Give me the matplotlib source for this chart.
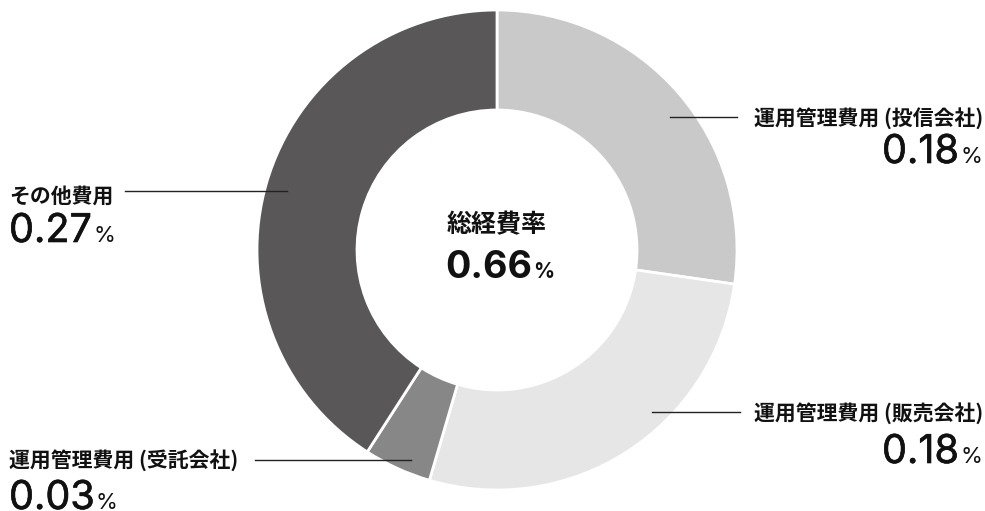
import matplotlib
matplotlib.use("Agg")
import matplotlib.pyplot as plt
import matplotlib.patheffects as pe

plt.rcParams['font.family'] = ['Noto Sans CJK JP', 'DejaVu Sans']

labels = ['運用管理費用 (投信会社)', '運用管理費用 (販売会社)', '運用管理費用 (受託会社)', 'その他費用']
values = [0.18, 0.18, 0.03, 0.27]
value_text = ['0.18', '0.18', '0.03', '0.27']
colors = ['#c9c9c9', '#e6e6e6', '#878787', '#595757']
total_label = '総経費率'
total_text = '0.66'

W, H = 985, 511
fig = plt.figure(figsize=(W / 100, H / 100), dpi=100)
ax = fig.add_axes([0, 0, 1, 1])

cx, cy = 497, H - 250
ax.pie(values, colors=colors, startangle=90, counterclock=False,
       center=(cx, cy), radius=240, frame=True,
       wedgeprops=dict(width=100, edgecolor='white', linewidth=2))
ax.set_xlim(0, W)
ax.set_ylim(0, H)
ax.set_aspect('auto')
ax.axis('off')

fig.canvas.draw()
renderer = fig.canvas.get_renderer()
NUM_FONT = ['Inter', 'DejaVu Sans']
INK = '#111111'
# Inter has no medium cut here, so thicken the regular one a little
thick = [pe.withStroke(linewidth=0.45, foreground=INK)]


def width_px(t):
    return t.get_window_extent(renderer).width


def value_with_pct(x, y, num, align, big=28.5, small=16):
    # number plus a small % sign, sharing a baseline
    kw = dict(va='baseline', color=INK, family=NUM_FONT)
    if align == 'right':
        p = ax.text(x, y, '%', fontsize=small, ha='right', **kw)
        ax.text(x - width_px(p) - 1, y, num, fontsize=big, ha='right',
                path_effects=thick, **kw)
    else:
        t = ax.text(x, y, num, fontsize=big, ha='left', path_effects=thick, **kw)
        ax.text(x + width_px(t) + 1, y, '%', fontsize=small, ha='left', **kw)


lab_kw = dict(fontsize=15, fontweight='bold', color=INK, va='center')
line_kw = dict(color='#222222', linewidth=1)

# top right
ax.plot([670, 737], [H - 117, H - 117], **line_kw)
ax.text(983, H - 118, labels[0], ha='right', **lab_kw)
value_with_pct(982, H - 163, value_text[0], 'right')

# bottom right
ax.plot([652, 740], [H - 412, H - 412], **line_kw)
ax.text(983, H - 413, labels[1], ha='right', **lab_kw)
value_with_pct(982, H - 463, value_text[1], 'right')

# bottom left
ax.plot([255, 411], [H - 460, H - 460], **line_kw)
ax.text(9, H - 460, labels[2], ha='left', **lab_kw)
value_with_pct(9, H - 509, value_text[2], 'left')

# top left
ax.plot([125, 287], [H - 191, H - 191], **line_kw)
ax.text(9, H - 196, labels[3], ha='left', **lab_kw)
value_with_pct(9, H - 242, value_text[3], 'left')

# center
ax.text(cx, H - 225, total_label, ha='center', va='center', fontsize=18,
        fontweight='bold', color=INK)
c = ax.text(445, H - 278, total_text, ha='left', va='baseline', fontsize=27,
            fontweight='bold', color=INK, family=NUM_FONT)
ax.text(445 + width_px(c) + 1, H - 278, '%', ha='left', va='baseline', fontsize=15,
        fontweight='bold', color=INK, family=NUM_FONT)

fig.savefig('out.png', dpi=100, facecolor='white')
